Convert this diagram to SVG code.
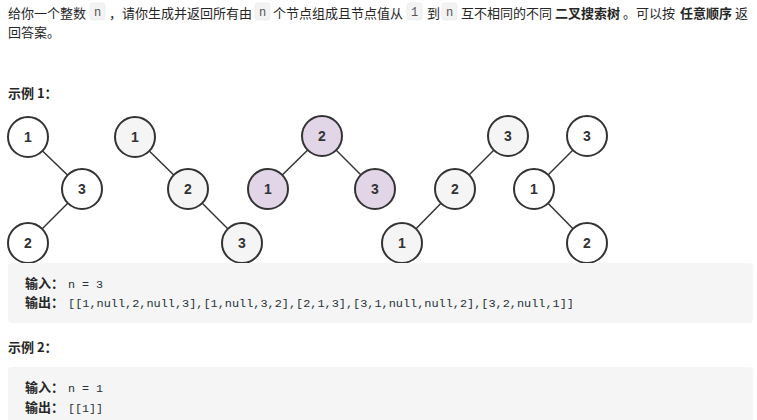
<svg xmlns="http://www.w3.org/2000/svg" width="757" height="420" viewBox="0 0 757 420">
<style>
.t{font-family:"Noto Sans CJK SC","Liberation Sans",sans-serif;font-size:13px;fill:#262626}
.b{font-weight:bold}
.ic{fill:#f3f3f3;stroke:#ebebeb;stroke-width:0.8}
.icode{font-family:"Liberation Mono",monospace;font-size:12px;fill:#555}
.code{font-family:"Liberation Mono",monospace;font-size:11.7px;fill:#263238}
.n{stroke:#333;stroke-width:2}
.w{fill:#fff}
.g{fill:#f5f5f5}
.p{fill:#e1d5e7}
.lbl{font-family:"Liberation Sans",Arial,sans-serif;font-size:14px;font-weight:bold;fill:#333;text-anchor:middle}
.e{stroke:#333;stroke-width:1.5}
</style>
<rect width="757" height="420" fill="#fff"/>
<g id="intro">
<text class="t" x="8" y="17.5">给你一个整数</text>
<rect class="ic" x="90" y="3" width="15" height="17" rx="3"/>
<text class="icode" x="97.5" y="16" text-anchor="middle">n</text>
<text class="t" x="109" y="17.5">，请你生成并返回所有由</text>
<rect class="ic" x="255" y="3" width="15" height="17" rx="3"/>
<text class="icode" x="262.5" y="16" text-anchor="middle">n</text>
<text class="t" x="273" y="17.5">个节点组成且节点值从</text>
<rect class="ic" x="407" y="3" width="15" height="17" rx="3"/>
<text class="icode" x="414.5" y="16" text-anchor="middle">1</text>
<text class="t" x="427" y="17.5">到</text>
<rect class="ic" x="442" y="3" width="15" height="17" rx="3"/>
<text class="icode" x="449.5" y="16" text-anchor="middle">n</text>
<text class="t" x="461" y="17.5">互不相同的不同</text>
<text class="t b" x="555" y="17.5">二叉搜索树</text>
<text class="t" x="623" y="17.5">。可以按</text>
<text class="t b" x="680" y="17.5">任意顺序</text>
<text class="t" x="735" y="17.5">返</text>
<text class="t" x="8" y="36.5">回答案。</text>
</g>
<text class="t b" x="8" y="98">示例 1：</text>
<g id="connectors">
<line class="e" x1="28" y1="137" x2="82" y2="189"/>
<line class="e" x1="82" y1="189" x2="28" y2="243"/>
<line class="e" x1="135" y1="137" x2="188" y2="189"/>
<line class="e" x1="188" y1="189" x2="242" y2="243"/>
<line class="e" x1="322" y1="136" x2="268" y2="189"/>
<line class="e" x1="322" y1="136" x2="375" y2="189"/>
<line class="e" x1="508" y1="136" x2="455" y2="189"/>
<line class="e" x1="455" y1="189" x2="402" y2="243"/>
<line class="e" x1="587" y1="136" x2="534" y2="189"/>
<line class="e" x1="534" y1="189" x2="587" y2="243"/>
</g>
<g id="t1n1"><circle class="n w" cx="28" cy="137" r="20"/><text class="lbl" x="28" y="142">1</text></g>
<g id="t1n3"><circle class="n w" cx="82" cy="189" r="20"/><text class="lbl" x="82" y="194">3</text></g>
<g id="t1n2"><circle class="n w" cx="28" cy="243" r="20"/><text class="lbl" x="28" y="248">2</text></g>
<g id="t2n1"><circle class="n g" cx="135" cy="137" r="20"/><text class="lbl" x="135" y="142">1</text></g>
<g id="t2n2"><circle class="n g" cx="188" cy="189" r="20"/><text class="lbl" x="188" y="194">2</text></g>
<g id="t2n3"><circle class="n g" cx="242" cy="243" r="20"/><text class="lbl" x="242" y="248">3</text></g>
<g id="t3n2"><circle class="n p" cx="322" cy="136" r="20"/><text class="lbl" x="322" y="141">2</text></g>
<g id="t3n1"><circle class="n p" cx="268" cy="189" r="20"/><text class="lbl" x="268" y="194">1</text></g>
<g id="t3n3"><circle class="n p" cx="375" cy="189" r="20"/><text class="lbl" x="375" y="194">3</text></g>
<g id="t4n3"><circle class="n g" cx="508" cy="136" r="20"/><text class="lbl" x="508" y="141">3</text></g>
<g id="t4n2"><circle class="n g" cx="455" cy="189" r="20"/><text class="lbl" x="455" y="194">2</text></g>
<g id="t4n1"><circle class="n g" cx="402" cy="243" r="20"/><text class="lbl" x="402" y="248">1</text></g>
<g id="t5n3"><circle class="n w" cx="587" cy="136" r="20"/><text class="lbl" x="587" y="141">3</text></g>
<g id="t5n1"><circle class="n w" cx="534" cy="189" r="20"/><text class="lbl" x="534" y="194">1</text></g>
<g id="t5n2"><circle class="n w" cx="587" cy="243" r="20"/><text class="lbl" x="587" y="248">2</text></g>
<g id="example1">
<rect x="8" y="263" width="745" height="60" rx="4" fill="#f5f5f5"/>
<text class="t b" x="25" y="288">输入：</text>
<text class="code" x="68" y="288">n = 3</text>
<text class="t b" x="25" y="307">输出：</text>
<text class="code" x="68" y="307" textLength="506" lengthAdjust="spacingAndGlyphs">[[1,null,2,null,3],[1,null,3,2],[2,1,3],[3,1,null,null,2],[3,2,null,1]]</text>
</g>
<text class="t b" x="8" y="352">示例 2：</text>
<g id="example2">
<rect x="8" y="367" width="745" height="60" rx="4" fill="#f5f5f5"/>
<text class="t b" x="25" y="392">输入：</text>
<text class="code" x="68" y="392">n = 1</text>
<text class="t b" x="25" y="412">输出：</text>
<text class="code" x="68" y="412">[[1]]</text>
</g>
</svg>
